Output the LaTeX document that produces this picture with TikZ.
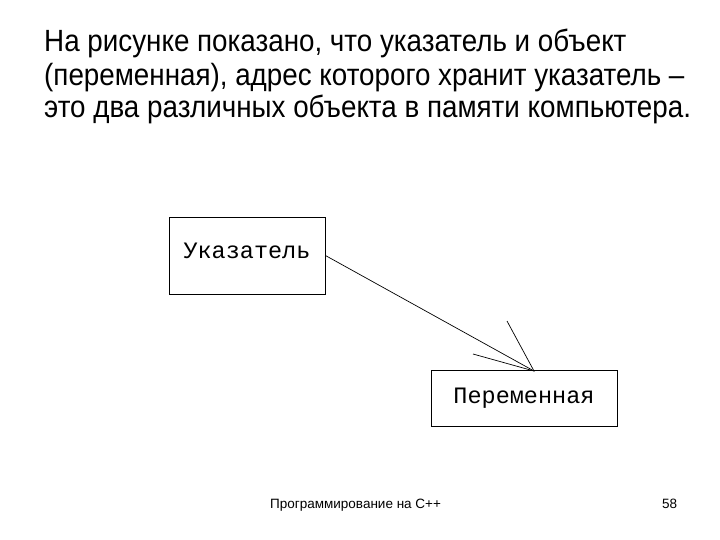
\documentclass[tikz,border=0pt]{standalone}
\usepackage{fontspec}
\setmainfont{Liberation Sans}
\newfontfamily\titlefont[FakeStretch=0.905]{Liberation Sans}
\newfontfamily\boxfont{Liberation Mono}
\begin{document}
\begin{tikzpicture}[x=1pt,y=-1pt,
  titleline/.style={anchor=base west,inner sep=0pt,font=\titlefont\fontsize{30.7}{33}\selectfont},
  boxnode/.style={draw,line width=0.9pt,inner sep=0pt,font=\boxfont\fontsize{23.5}{26}\selectfont},
  footer/.style={anchor=base west,inner sep=0pt,font=\fontsize{13.5}{15}\selectfont},
  conn/.style={line width=0.7pt}]
\useasboundingbox (0,0) rectangle (720,540);
\node[titleline] (t1) at (44,52) {На рисунке показано, что указатель и объект};
\node[titleline] (t2) at (44,86) {(переменная), адрес которого хранит указатель –};
\node[titleline] (t3) at (44,118) {это два различных объекта в памяти компьютера.};
\node[boxnode,minimum width=156pt,minimum height=77pt] (ptr) at (247,255.5) {\raisebox{10pt}{Указатель}};
\node[boxnode,minimum width=186pt,minimum height=56pt] (var) at (524,398) {Переменная};
\coordinate (tip) at (534,371);
\coordinate (h1) at (507,321);
\coordinate (h2) at (473,354);
\draw[conn] (ptr.east) -- (tip);
\draw[conn] (h1) -- (tip) -- (h2);
\node[footer] (f1) at (270,508) {Программирование на С++};
\node[footer] (f2) at (662,508) {58};
\end{tikzpicture}
\end{document}
